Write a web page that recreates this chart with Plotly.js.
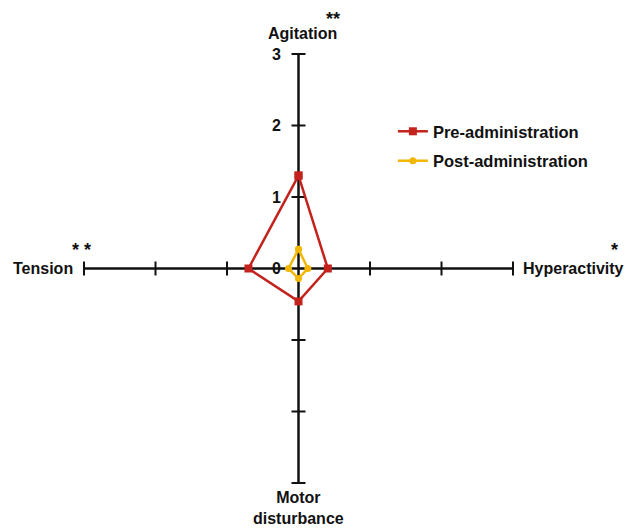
<!DOCTYPE html>
<html>
<head>
<meta charset="utf-8">
<script src="https://cdn.plot.ly/plotly-3.0.1.min.js"></script>
<style>html,body{margin:0;padding:0;background:#fff;}#chart{width:629px;height:528px;}</style>
</head>
<body>
<div id="chart"></div>
<script>
// Axis categories (clockwise from top)
var categories = ["Agitation", "Hyperactivity", "Motor disturbance", "Tension"];
var categoryLabels = ["Agitation", "Hyperactivity", "Motor<br>disturbance", "Tension"];
var significance = ["**", "*", "", "* *"];
// Series values
var preValues = [1.30, 0.41, 0.46, 0.70];
var postValues = [0.27, 0.13, 0.14, 0.14];
var seriesNames = ["Pre-administration", "Post-administration"];
// Axis scale
var axisMax = 3;
var tickValues = [1, 2, 3];
var tickLabels = ["0", "1", "2", "3"];
var tickLabelValues = [0, 1, 2, 3];

// direction of each category arm: [dx, dy]
var dirs = [[0, 1], [1, 0], [0, -1], [-1, 0]];

function polygon(vals) {
  var xs = [], ys = [];
  for (var i = 0; i <= vals.length; i++) {
    var k = i % vals.length;
    xs.push(dirs[k][0] * vals[k]);
    ys.push(dirs[k][1] * vals[k]);
  }
  return {x: xs, y: ys};
}

var FONT = "Liberation Sans, Arial, Helvetica, sans-serif";
var RED = "#c4221c", YELLOW = "#f2b705";

var traces = [];
traces.push({x: [-axisMax, axisMax], y: [0, 0], mode: "lines", line: {color: "#111", width: 2.5}, showlegend: false, hoverinfo: "skip", cliponaxis: false});
traces.push({x: [0, 0], y: [-axisMax, axisMax], mode: "lines", line: {color: "#111", width: 2.5}, showlegend: false, hoverinfo: "skip", cliponaxis: false});
var hx = [], hy = [], vx = [], vy = [];
tickValues.forEach(function (t) {
  hx.push(t, -t); hy.push(0, 0);
  vx.push(0, 0); vy.push(t, -t);
});
traces.push({x: hx, y: hy, mode: "markers", marker: {symbol: "line-ns", size: 10, line: {color: "#111", width: 2}}, showlegend: false, hoverinfo: "skip", cliponaxis: false});
traces.push({x: vx, y: vy, mode: "markers", marker: {symbol: "line-ew", size: 10, line: {color: "#111", width: 2}}, showlegend: false, hoverinfo: "skip", cliponaxis: false});

var pre = polygon(preValues), post = polygon(postValues);
traces.push({x: pre.x, y: pre.y, name: seriesNames[0], mode: "lines+markers", line: {color: RED, width: 2.5}, marker: {symbol: "square", size: 8, color: RED}, cliponaxis: false, legendgroup: "a"});
traces.push({x: post.x, y: post.y, name: seriesNames[1], mode: "lines+markers", line: {color: YELLOW, width: 2.5}, marker: {symbol: "circle", size: 7, color: YELLOW}, cliponaxis: false, legendgroup: "b"});

var annotations = [];
tickLabelValues.forEach(function (v, i) {
  annotations.push({x: 0, y: v, xref: "x", yref: "y", text: "<b>" + tickLabels[i] + "</b>", showarrow: false, xanchor: "right", yanchor: "middle", xshift: -16, font: {family: FONT, size: 16, color: "#111"}});
});
var nameFont = {family: FONT, size: 16, color: "#111"};
var starFont = {family: FONT, size: 18, color: "#111"};
// Agitation
annotations.push({x: 0, y: axisMax, xref: "x", yref: "y", text: "<b>" + categoryLabels[0] + "</b>", showarrow: false, xanchor: "center", yanchor: "bottom", xshift: 4, yshift: 11, borderpad: 0, font: nameFont});
annotations.push({x: 0, y: axisMax, xref: "x", yref: "y", text: "<b>" + significance[0] + "</b>", showarrow: false, xanchor: "center", yanchor: "bottom", xshift: 34, yshift: 24, borderpad: 0, font: starFont});
// Hyperactivity
annotations.push({x: axisMax, y: 0, xref: "x", yref: "y", text: "<b>" + categoryLabels[1] + "</b>", showarrow: false, xanchor: "left", yanchor: "middle", xshift: 9, borderpad: 0, font: nameFont});
annotations.push({x: axisMax, y: 0, xref: "x", yref: "y", text: "<b>" + significance[1] + "</b>", showarrow: false, xanchor: "center", yanchor: "middle", xshift: 101, yshift: 19, borderpad: 0, font: starFont});
// Motor disturbance
annotations.push({x: 0, y: -axisMax, xref: "x", yref: "y", text: "<b>" + categoryLabels[2] + "</b>", showarrow: false, xanchor: "center", yanchor: "top", yshift: -5, borderpad: 0, font: nameFont});
// Tension
annotations.push({x: -axisMax, y: 0, xref: "x", yref: "y", text: "<b>" + categoryLabels[3] + "</b>", showarrow: false, xanchor: "right", yanchor: "middle", xshift: -10, borderpad: 0, font: nameFont});
annotations.push({x: -axisMax, y: 0, xref: "x", yref: "y", text: "<b>" + significance[3] + "</b>", showarrow: false, xanchor: "center", yanchor: "middle", xshift: -3, yshift: 19, borderpad: 0, font: starFont});

var layout = {
  width: 629, height: 528,
  margin: {l: 84, r: 116, t: 54, b: 45},
  paper_bgcolor: "#fff", plot_bgcolor: "#fff",
  xaxis: {range: [-axisMax, axisMax], visible: false, fixedrange: true},
  yaxis: {range: [-axisMax, axisMax], visible: false, fixedrange: true},
  showlegend: true,
  legend: {x: 0.72, y: 0.86, xanchor: "left", yanchor: "top", font: {family: FONT, size: 16.5, color: "#111", weight: "bold"}, bgcolor: "rgba(0,0,0,0)", tracegroupgap: 5},
  annotations: annotations
};

Plotly.newPlot("chart", traces, layout, {displayModeBar: false, staticPlot: true});
</script>
</body>
</html>
